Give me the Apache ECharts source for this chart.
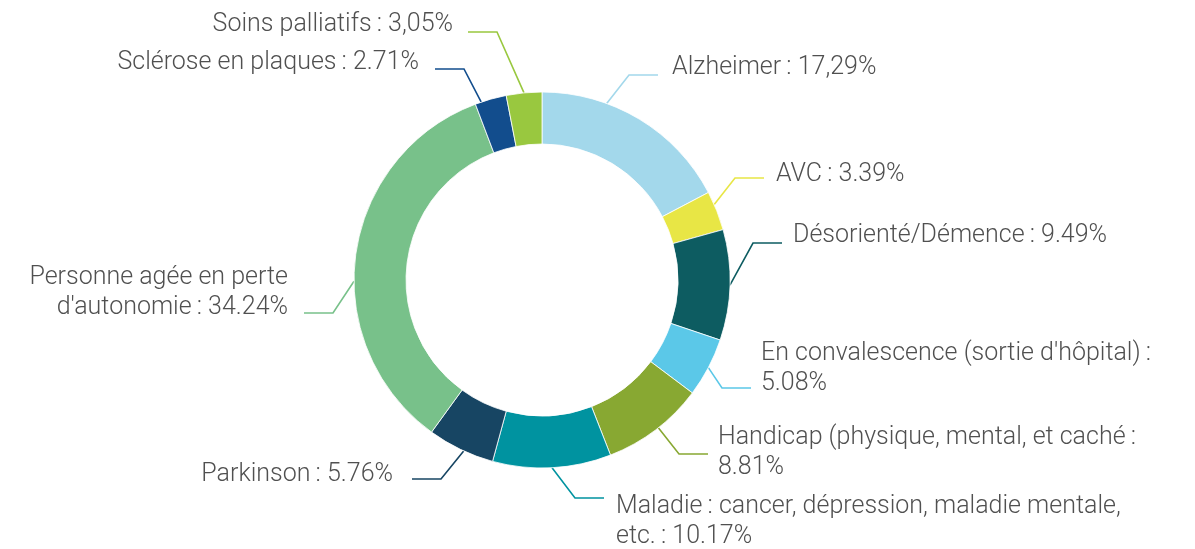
<!DOCTYPE html>
<html>
<head>
<meta charset="utf-8">
<script src="https://cdn.jsdelivr.net/npm/echarts@6/dist/echarts.min.js"></script>
<style>
html,body{margin:0;padding:0;background:#ffffff;}
#chart{width:1195px;height:549px;}
</style>
</head>
<body>
<div id="chart"></div>
<script>
// ---- Data ----
const categories = [
  "Alzheimer",
  "AVC",
  "Désorienté/Démence",
  "En convalescence (sortie d'hôpital)",
  "Handicap (physique, mental, et caché",
  "Maladie\u2009: cancer, dépression, maladie mentale,\netc.",
  "Parkinson",
  "Personne agée en perte\nd'autonomie",
  "Sclérose en plaques",
  "Soins palliatifs"
];
const values = [17.29, 3.39, 9.49, 5.08, 8.81, 10.17, 5.76, 34.24, 2.71, 3.05];
const valueLabels = ["17,29%", "3.39%", "9.49%", "5.08%", "8.81%", "10.17%", "5.76%", "34.24%", "2.71%", "3,05%"];
const wrapAfterColon = [false, false, false, true, true, false, false, false, false, false];

// ---- Styles / layout ----
const colors = ["#a3d8eb", "#e8e645", "#0d5c61", "#5bc8e8", "#88a832", "#0093a0", "#174563", "#78c18a", "#124d8d", "#99c83f"];
const CENTER = [542, 280];
const R_IN = 136, R_OUT = 188;
const LINE_H = 30;
const LEN2 = 29;
// x: end of leader line; textTop: top of the text block; lineY: height of the leader line; gap: text-to-line gap
// anchorShift: optional shift (deg) of the leader line's start from the slice middle
const labelPlacement = [
  {x: 658, textTop: 53,  lineY: 75,  align: 'left',  gap: 14, anchorShift: -11},
  {x: 764, textTop: 160, lineY: 178, align: 'left',  gap: 12, anchorShift: -2},
  {x: 782, textTop: 221, lineY: 243, align: 'left',  gap: 11, anchorShift: 0},
  {x: 751, textTop: 339, lineY: 388, align: 'left',  gap: 10, anchorShift: 0},
  {x: 708, textTop: 423, lineY: 454, align: 'left',  gap: 10, anchorShift: -1},
  {x: 604, textTop: 492, lineY: 498, align: 'left',  gap: 12, anchorShift: 0},
  {x: 412, textTop: 460, lineY: 479, align: 'right', gap: 19, anchorShift: -1},
  {x: 304, textTop: 263, lineY: 313, align: 'right', gap: 16, anchorShift: -8},
  {x: 435, textTop: 48,  lineY: 69,  align: 'right', gap: 16, anchorShift: -3},
  {x: 468, textTop: 10,  lineY: 32,  align: 'right', gap: 15, anchorShift: 0}
];

function labelText(i) {
  return categories[i] + '\u2009:' + (wrapAfterColon[i] ? '\n' : ' ') + valueLabels[i];
}

// padding so that the middle of the label box sits on the leader line
const boxes = labelPlacement.map((pl, i) => {
  const lines = labelText(i).split('\n').length;
  const h = lines * LINE_H;
  const c = pl.textTop + h / 2;
  let pt = 0, pb = 0, top = pl.textTop;
  if (pl.lineY >= c) { pb = 2 * (pl.lineY - c); }
  else { pt = 2 * (c - pl.lineY); top = pl.textTop - pt; }
  const padding = pl.align === 'left' ? [pt, 0, pb, pl.gap] : [pt, pl.gap, pb, 0];
  return {top: top, padding: padding};
});

// middle angle of each slice (degrees clockwise from 12 o'clock), from the data
const total = values.reduce((a, b) => a + b, 0);
const midAngles = [];
values.reduce((acc, v) => { midAngles.push((acc + v / 2) / total * 360); return acc + v; }, 0);

const seriesData = categories.map((name, i) => ({
  name: name,
  value: values[i],
  itemStyle: {color: colors[i]},
  label: {padding: boxes[i].padding, align: labelPlacement[i].align}
}));

const chart = echarts.init(document.getElementById('chart'), null, {renderer: 'canvas'});
chart.setOption({
  backgroundColor: '#ffffff',
  animation: false,
  series: [{
    type: 'pie',
    center: CENTER,
    radius: [R_IN, R_OUT],
    startAngle: 90,
    clockwise: true,
    avoidLabelOverlap: false,
    itemStyle: {borderColor: '#ffffff', borderWidth: 0.8},
    label: {
      show: true,
      position: 'outside',
      fontFamily: 'Roboto',
      fontWeight: 300,
      fontSize: 25,
      lineHeight: LINE_H,
      color: '#505050',
      backgroundColor: 'rgba(255,255,255,0)',
      width: 560,
      overflow: 'none',
      formatter: function (p) { return labelText(p.dataIndex); }
    },
    labelLine: {
      show: true,
      length: 20,
      length2: LEN2,
      lineStyle: {width: 1.6}
    },
    labelLayout: function (params) {
      const i = params.dataIndex;
      const pl = labelPlacement[i];
      const a = (midAngles[i] + pl.anchorShift) * Math.PI / 180;
      const start = [CENTER[0] + R_OUT * Math.sin(a), CENTER[1] - R_OUT * Math.cos(a)];
      const elbow = [pl.align === 'left' ? pl.x - LEN2 : pl.x + LEN2, pl.lineY];
      return {
        x: pl.x, y: boxes[i].top, align: pl.align, verticalAlign: 'top',
        labelLinePoints: [start, elbow, [pl.x, pl.lineY]]
      };
    },
    emphasis: {disabled: true},
    data: seriesData
  }]
});
</script>
</body>
</html>
